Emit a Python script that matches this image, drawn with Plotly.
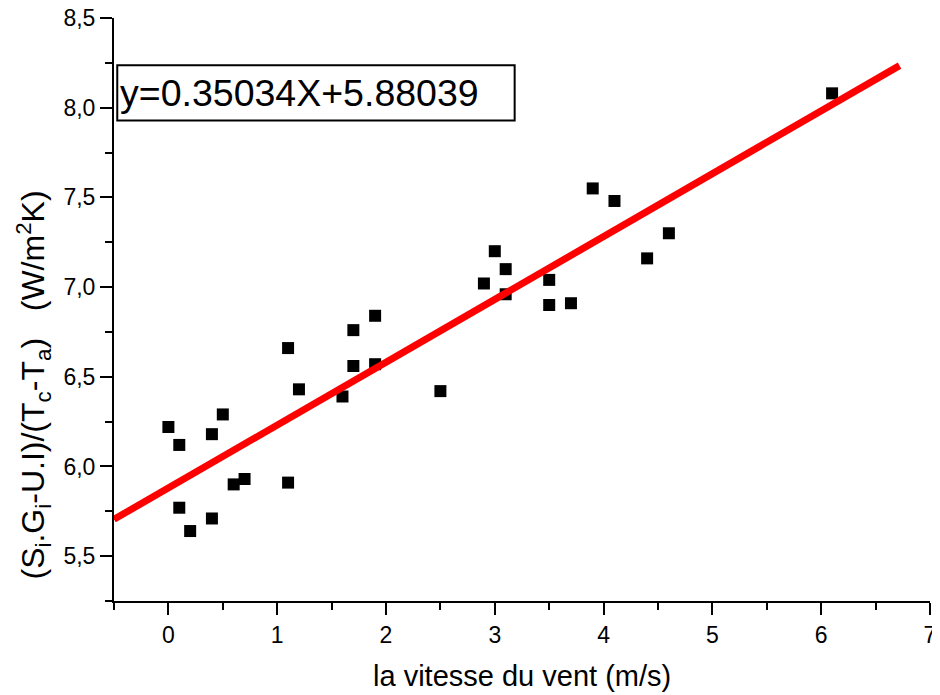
import plotly.graph_objects as go

# Data
wind_speed = [0.0, 0.1, 0.1, 0.2, 0.4, 0.4, 0.5, 0.6, 0.7, 1.1, 1.1, 1.2, 1.6, 1.7, 1.7,
              1.9, 1.9, 2.5, 2.9, 3.0, 3.1, 3.1, 3.5, 3.5, 3.7, 3.9, 4.1, 4.4, 4.6, 6.1]
coef_h = [6.22, 6.12, 5.77, 5.64, 6.18, 5.71, 6.29, 5.90, 5.93, 6.66, 5.91, 6.43, 6.39, 6.76, 6.56,
          6.84, 6.57, 6.42, 7.02, 7.20, 7.10, 6.96, 7.04, 6.90, 6.91, 7.55, 7.48, 7.16, 7.30, 8.08]

slope = 0.35034
intercept = 5.88039
fit_x = [-0.5, 6.72]
fit_y = [slope * v + intercept for v in fit_x]

x_ticks = [0, 1, 2, 3, 4, 5, 6, 7]
y_ticks = [5.5, 6.0, 6.5, 7.0, 7.5, 8.0, 8.5]

FONT = "Liberation Sans, Arial, sans-serif"

fig = go.Figure()
fig.add_trace(go.Scatter(
    x=wind_speed, y=coef_h, mode="markers",
    marker=dict(symbol="square", size=12, color="black", line=dict(width=0)),
    showlegend=False, hoverinfo="x+y", cliponaxis=False))
fig.add_trace(go.Scatter(
    x=fit_x, y=fit_y, mode="lines",
    line=dict(color="#ff0000", width=7),
    showlegend=False, hoverinfo="skip"))

axis_common = dict(
    showline=True, linecolor="black", linewidth=2, mirror=False,
    showgrid=False, zeroline=False, automargin=False,
    ticklabeloverflow="allow",
    ticks="outside", ticklen=12, tickwidth=2, tickcolor="black",
    tickfont=dict(family=FONT, size=23, color="black"),
)

# page body has an 8px margin, so the figure is sized/offset to compensate
fig.update_layout(
    width=932, height=687,
    margin=dict(l=106, r=10, t=10, b=94),
    paper_bgcolor="white", plot_bgcolor="white",
    separators=",.",
    font=dict(family=FONT, color="black"),
    xaxis=dict(range=[-0.5, 7], tickmode="array", tickvals=x_ticks,
               ticktext=[str(v) for v in x_ticks],
               minor=dict(dtick=0.5, tick0=0, ticks="outside", ticklen=7, tickwidth=2, tickcolor="black"),
               **axis_common),
    yaxis=dict(range=[5.25, 8.5], tickmode="array", tickvals=y_ticks,
               ticktext=[f"{v:.1f}".replace(".", ",") for v in y_ticks],
               minor=dict(dtick=0.25, tick0=5.25, ticks="outside", ticklen=7, tickwidth=2, tickcolor="black"),
               **axis_common),
)

# x-axis title
fig.add_annotation(
    xref="paper", yref="paper", x=0.5, y=-0.128,
    text="la vitesse du vent (m/s)", showarrow=False,
    xanchor="center", yanchor="middle",
    font=dict(family=FONT, size=29, color="black"))

# y-axis title
fig.add_annotation(
    xref="paper", yref="paper", x=-0.099, y=0.37,
    text="(S<sub>i</sub>.G<sub>i</sub>-U.I)/(T<sub>c</sub>-T<sub>a</sub>)&nbsp;&nbsp;&nbsp;(W/m<sup>2</sup>K)",
    textangle=-90, showarrow=False, xanchor="center", yanchor="middle",
    font=dict(family=FONT, size=32, color="black"))

# equation box
fig.add_shape(type="rect", xref="paper", yref="paper",
              x0=0.004, x1=0.491, y0=0.824, y1=0.919,
              line=dict(color="black", width=2), fillcolor="rgba(0,0,0,0)")
fig.add_annotation(
    xref="paper", yref="paper", x=0.005, y=0.8716,
    text=f"y={slope:.5f}X+{intercept:.5f}", showarrow=False,
    xanchor="left", yanchor="middle",
    font=dict(family=FONT, size=37.5, color="black"))

fig.write_html("out.html")
